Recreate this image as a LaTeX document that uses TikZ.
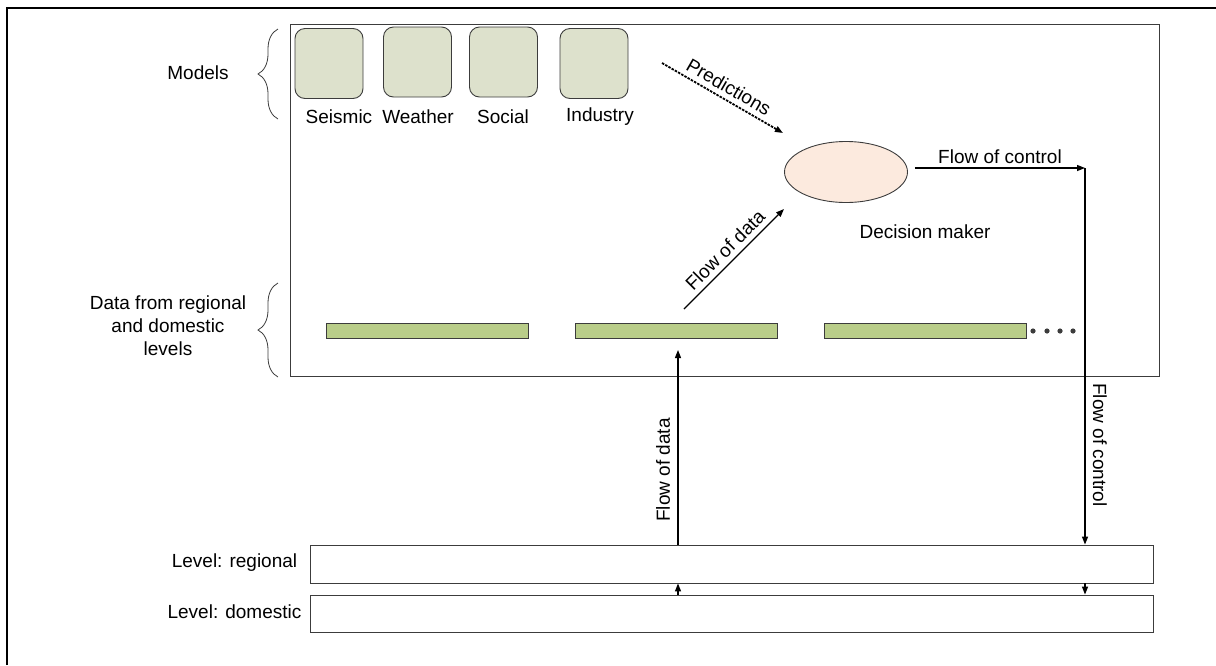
\documentclass[tikz,border=0pt]{standalone}
\usepackage{fontspec}
\setmainfont{Liberation Sans}
\usetikzlibrary{arrows.meta,decorations.pathreplacing,shapes.geometric}
\definecolor{modelfill}{RGB}{221,225,204}
\definecolor{barfill}{RGB}{185,205,137}
\definecolor{ellfill}{RGB}{252,234,222}
\definecolor{edge}{RGB}{60,60,60}
\begin{document}
\begin{tikzpicture}[x=1pt, y=-1pt,
    every node/.style={font=\fontsize{19}{23}\selectfont},
    model/.style={draw=edge, rounded corners=10pt, fill=modelfill, minimum width=68pt, minimum height=70pt, inner sep=0pt, line width=0.9pt},
    bar/.style={draw=edge, fill=barfill, minimum width=202pt, minimum height=15pt, inner sep=0pt, line width=0.9pt},
    level/.style={draw=edge, minimum width=843pt, inner sep=0pt, line width=0.9pt},
    flow/.style={line width=1.3pt, -{Triangle[length=8pt,width=6pt]}},
    curly/.style={decorate, decoration={brace, amplitude=20pt}, edge, line width=0.8pt}]

    \useasboundingbox (0,0) rectangle (1216,665);
    \draw[line width=2.2pt] (7,665) -- (7,8) -- (1216,8);
    \draw[edge, line width=0.9pt] (290,24) rectangle (1159,376);

    \node[model] (1) at (329,63.5) {};
    \node[model] (2) at (417.5,62) {};
    \node[model] (3) at (503.5,62) {};
    \node[model] (4) at (594,63.5) {};
    \node (5) at (339,117) {Seismic};
    \node (6) at (418,117) {Weather};
    \node (7) at (503,117) {Social};
    \node (8) at (600,117) {Industry};

    \node[ellipse, draw=edge, fill=ellfill, minimum width=123pt, minimum height=61pt, inner sep=0pt, line width=0.9pt] (9) at (846,172) {};
    \node (10) at (925,232) {Decision maker};

    \node[bar] (11) at (427,330.5) {};
    \node[bar] (12) at (676.5,330.5) {};
    \node[bar] (13) at (925,330.5) {};
    \foreach \x in {1033,1047,1060,1073}
        \fill[edge] (\x,331) circle (2.6pt);

    \node[level, minimum height=38pt] (14) at (731.5,564) {};
    \node[level, minimum height=37pt] (15) at (731.5,613.5) {};
    \node (16) at (234.5,563) {Level: regional};
    \node (17) at (234.5,612) {Level: domestic};

    \node (18) at (198,73) {Models};
    \node[align=center] (19) at (168,326) {Data from regional\\and domestic\\levels};
    \draw[curly] (278,119) -- (278,29);
    \draw[curly] (278,377) -- (278,283);

    \coordinate (20) at (662,63);
    \coordinate (21) at (783,133);
    \coordinate (22) at (684,309);
    \coordinate (23) at (784,209);
    \coordinate (24) at (1085,168);
    \coordinate (25) at (678,350);
    \coordinate (26) at (678,0);

    \draw[flow, line width=1.8pt, dash pattern=on 2.5pt off 1.2pt] (20) -- (21) node[midway, above, sloped, inner sep=5pt] {Predictions};
    \draw[flow] (22) -- (23) node[midway, above, sloped, inner sep=5pt] {Flow of data};
    \draw[flow] ([xshift=7pt]9.east |- 24) -- (24) node[midway, above, inner sep=4pt] {Flow of control};
    \draw[flow] (24) -- (14.north -| 24);
    \draw[flow] (14.north -| 26) -- (25);
    \draw[flow] (15.north -| 26) -- (14.south -| 26);
    \draw[flow] (14.south -| 24) -- (15.north -| 24);
    \node[rotate=90] (27) at (663,470) {Flow of data};
    \node[rotate=-90] (28) at (1100,445) {Flow of control};

\end{tikzpicture}
\end{document}
